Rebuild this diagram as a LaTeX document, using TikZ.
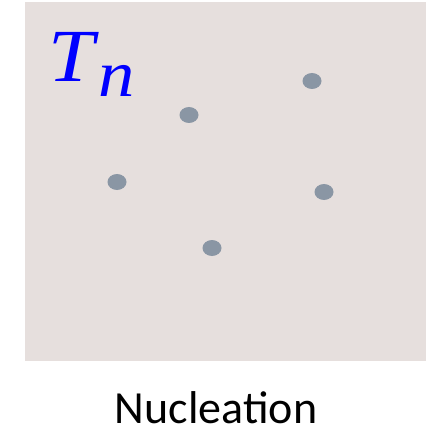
\documentclass[tikz,border=0pt]{standalone}
\usepackage{fontspec}
\setmainfont{Carlito}
\newfontfamily\symfont[FakeStretch=1.1]{Liberation Serif}
\usepackage{tikz}
\usetikzlibrary{shapes.geometric, positioning}
\definecolor{mybg}{RGB}{230,223,221}
\definecolor{mynucleus}{RGB}{138,150,164}
\definecolor{myblue}{RGB}{0,0,255}
\tikzset{
  panel/.style={rectangle, fill=mybg, draw=none},
  nucleus/.style={ellipse, fill=mynucleus, draw=none,
    minimum width=19pt, minimum height=16pt, inner sep=0pt},
  caption/.style={font=\fontsize{46}{46}\selectfont, inner sep=0pt, anchor=base},
  templabel/.style={font=\symfont\itshape\fontsize{75}{75}\selectfont, text=myblue,
    inner sep=0pt, anchor=base west}
}
\begin{document}
\begin{tikzpicture}[x=1pt, y=-1pt]
  \useasboundingbox (0,0) rectangle (439,446);

  % Panel
  \fill[mybg] (25,2) rectangle (426,361);
  \node[templabel] (tn) at (48,82) {T\hspace{4pt}\raisebox{-15pt}{\fontsize{66}{66}\selectfont n}};

  % Nuclei
  \node[nucleus] (n1) at (312,81) {};
  \node[nucleus] (n2) at (189,115) {};
  \node[nucleus] (n3) at (117,182) {};
  \node[nucleus] (n4) at (324,192) {};
  \node[nucleus] (n5) at (212,248) {};

  % Caption
  \node[caption] (cap) at (216,423) {Nucleation};
\end{tikzpicture}
\end{document}
